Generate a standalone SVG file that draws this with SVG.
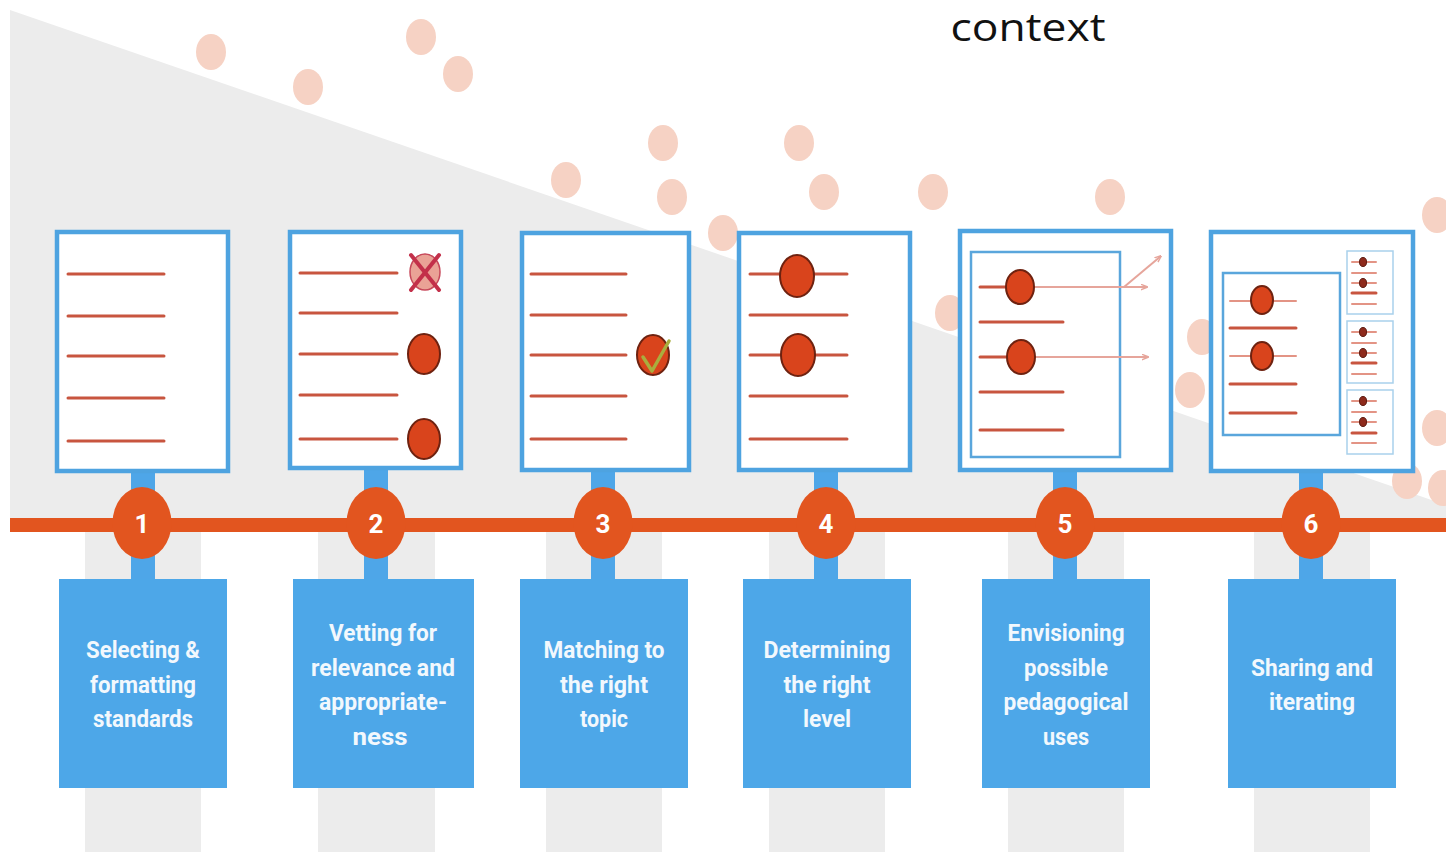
<svg xmlns="http://www.w3.org/2000/svg" width="1446" height="852" viewBox="0 0 1446 852">
<defs>
<style>
.bg{fill:#ffffff}
.tri{fill:#ececec}
.bar{fill:#ececec}
.dot{fill:#f6d2c4}
.card{fill:#ffffff;stroke:#4ea3e0;stroke-width:4.5}
.inner{fill:none;stroke:#5aa6dc;stroke-width:2.5}
.mini{fill:#ffffff;stroke:#a9d1ec;stroke-width:1.5}
.ln{stroke:#c8553f;stroke-width:3;stroke-linecap:round}
.lnp{stroke:#e39485;stroke-width:2;stroke-linecap:round}
.bul{fill:#d9441c;stroke:#6e2210;stroke-width:2}
.sbul{fill:#8e2a1c;stroke:#5a1a10;stroke-width:1}
.arr{stroke:#e6a59b;stroke-width:2;fill:none}
.stem{fill:#4ea6e8}
.num{fill:#e2551f}
.numt{fill:#ffffff;font-family:Roboto,"Liberation Sans",sans-serif;font-weight:bold;font-size:26px;text-anchor:middle}
.box{fill:#4da7e8}
.lbl{fill:#f2f8fd;font-family:Roboto,"Liberation Sans",sans-serif;font-weight:bold;font-size:24px;text-anchor:middle}
</style>
<marker id="ah" viewBox="0 0 10 10" refX="9" refY="5" markerWidth="7" markerHeight="7" orient="auto" markerUnits="userSpaceOnUse">
<path d="M0,1 L10,5 L0,9" fill="none" stroke="#e6a59b" stroke-width="2"/>
</marker>
</defs>
<rect class="bg" x="0" y="0" width="1446" height="852"/>
<g id="background">
<polygon class="tri" points="10,10 1446,505 1446,526 10,526"/>
<rect class="bar" x="85" y="526" width="116" height="326"/>
<rect class="bar" x="318" y="526" width="117" height="326"/>
<rect class="bar" x="546" y="526" width="116" height="326"/>
<rect class="bar" x="769" y="526" width="116" height="326"/>
<rect class="bar" x="1008" y="526" width="116" height="326"/>
<rect class="bar" x="1254" y="526" width="116" height="326"/>
<ellipse class="dot" cx="211" cy="52" rx="15" ry="18"/>
<ellipse class="dot" cx="308" cy="87" rx="15" ry="18"/>
<ellipse class="dot" cx="421" cy="37" rx="15" ry="18"/>
<ellipse class="dot" cx="458" cy="74" rx="15" ry="18"/>
<ellipse class="dot" cx="566" cy="180" rx="15" ry="18"/>
<ellipse class="dot" cx="663" cy="143" rx="15" ry="18"/>
<ellipse class="dot" cx="672" cy="197" rx="15" ry="18"/>
<ellipse class="dot" cx="723" cy="233" rx="15" ry="18"/>
<ellipse class="dot" cx="799" cy="143" rx="15" ry="18"/>
<ellipse class="dot" cx="824" cy="192" rx="15" ry="18"/>
<ellipse class="dot" cx="933" cy="192" rx="15" ry="18"/>
<ellipse class="dot" cx="1110" cy="197" rx="15" ry="18"/>
<ellipse class="dot" cx="950" cy="313" rx="15" ry="18"/>
<ellipse class="dot" cx="1202" cy="337" rx="15" ry="18"/>
<ellipse class="dot" cx="1190" cy="390" rx="15" ry="18"/>
<ellipse class="dot" cx="1437" cy="215" rx="15" ry="18"/>
<ellipse class="dot" cx="1437" cy="428" rx="15" ry="18"/>
<ellipse class="dot" cx="1407" cy="481" rx="15" ry="18"/>
<ellipse class="dot" cx="1443" cy="488" rx="15" ry="18"/>
</g>
<text x="1028" y="41" font-family="'Open Sans','Liberation Sans',sans-serif" font-size="38" fill="#111111" text-anchor="middle" textLength="155" lengthAdjust="spacingAndGlyphs">context</text>
<g id="connectors">
<rect x="10" y="518" width="1436" height="14" fill="#e2551f"/>
<rect class="stem" x="131" y="470" width="24" height="112"/>
<rect class="stem" x="364" y="468" width="24" height="114"/>
<rect class="stem" x="591" y="470" width="24" height="112"/>
<rect class="stem" x="814" y="470" width="24" height="112"/>
<rect class="stem" x="1053" y="470" width="24" height="112"/>
<rect class="stem" x="1299" y="470" width="24" height="112"/>
</g>
<g id="step1">
<rect class="card" x="57" y="232" width="171" height="239"/>
<line class="ln" x1="68" y1="274" x2="164" y2="274"/>
<line class="ln" x1="68" y1="316" x2="164" y2="316"/>
<line class="ln" x1="68" y1="356" x2="164" y2="356"/>
<line class="ln" x1="68" y1="398" x2="164" y2="398"/>
<line class="ln" x1="68" y1="441" x2="164" y2="441"/>
<ellipse class="num" cx="142" cy="523" rx="29.5" ry="36"/>
<text class="numt" x="142" y="533">1</text>
<rect class="box" x="59" y="579" width="168" height="209"/>
<text class="lbl" x="143" y="658" textLength="114" lengthAdjust="spacingAndGlyphs">Selecting &amp;</text>
<text class="lbl" x="143" y="693" textLength="106" lengthAdjust="spacingAndGlyphs">formatting</text>
<text class="lbl" x="143" y="727" textLength="100" lengthAdjust="spacingAndGlyphs">standards</text>
</g>
<g id="step2">
<rect class="card" x="290" y="232" width="171" height="236"/>
<line class="ln" x1="300" y1="273" x2="397" y2="273"/>
<line class="ln" x1="300" y1="313" x2="397" y2="313"/>
<line class="ln" x1="300" y1="354" x2="397" y2="354"/>
<line class="ln" x1="300" y1="395" x2="397" y2="395"/>
<line class="ln" x1="300" y1="439" x2="397" y2="439"/>
<ellipse cx="425" cy="272" rx="15" ry="18" fill="#eaa296" stroke="#c7485a" stroke-width="1.5"/>
<line x1="411" y1="255" x2="439" y2="290" stroke="#c3304a" stroke-width="4" stroke-linecap="round"/>
<line x1="439" y1="255" x2="411" y2="290" stroke="#c3304a" stroke-width="4" stroke-linecap="round"/>
<ellipse class="bul" cx="424" cy="354" rx="16" ry="20"/>
<ellipse class="bul" cx="424" cy="439" rx="16" ry="20"/>
<ellipse class="num" cx="376" cy="523" rx="29.5" ry="36"/>
<text class="numt" x="376" y="533">2</text>
<rect class="box" x="293" y="579" width="181" height="209"/>
<text class="lbl" x="383" y="641" textLength="108" lengthAdjust="spacingAndGlyphs">Vetting for</text>
<text class="lbl" x="383" y="676" textLength="144" lengthAdjust="spacingAndGlyphs">relevance and</text>
<text class="lbl" x="383" y="710" textLength="128" lengthAdjust="spacingAndGlyphs">appropriate-</text>
<text class="lbl" x="380" y="745" textLength="55" lengthAdjust="spacingAndGlyphs">ness</text>
</g>
<g id="step3">
<rect class="card" x="522" y="233" width="167" height="237"/>
<line class="ln" x1="531" y1="274" x2="626" y2="274"/>
<line class="ln" x1="531" y1="315" x2="626" y2="315"/>
<line class="ln" x1="531" y1="355" x2="626" y2="355"/>
<line class="ln" x1="531" y1="396" x2="626" y2="396"/>
<line class="ln" x1="531" y1="439" x2="626" y2="439"/>
<ellipse class="bul" cx="653" cy="355" rx="16" ry="20"/>
<polyline points="643,357 652,371 669,341" fill="none" stroke="#a9ad3e" stroke-width="3.5" stroke-linecap="round" stroke-linejoin="round"/>
<ellipse class="num" cx="603" cy="523" rx="29.5" ry="36"/>
<text class="numt" x="603" y="533">3</text>
<rect class="box" x="520" y="579" width="168" height="209"/>
<text class="lbl" x="604" y="658" textLength="121" lengthAdjust="spacingAndGlyphs">Matching to</text>
<text class="lbl" x="604" y="693" textLength="88" lengthAdjust="spacingAndGlyphs">the right</text>
<text class="lbl" x="604" y="727" textLength="48" lengthAdjust="spacingAndGlyphs">topic</text>
</g>
<g id="step4">
<rect class="card" x="739" y="233" width="171" height="237"/>
<line class="ln" x1="750" y1="274" x2="847" y2="274"/>
<line class="ln" x1="750" y1="315" x2="847" y2="315"/>
<line class="ln" x1="750" y1="355" x2="847" y2="355"/>
<line class="ln" x1="750" y1="396" x2="847" y2="396"/>
<line class="ln" x1="750" y1="439" x2="847" y2="439"/>
<ellipse class="bul" cx="797" cy="276" rx="17" ry="21"/>
<ellipse class="bul" cx="798" cy="355" rx="17" ry="21"/>
<ellipse class="num" cx="826" cy="523" rx="29.5" ry="36"/>
<text class="numt" x="826" y="533">4</text>
<rect class="box" x="743" y="579" width="168" height="209"/>
<text class="lbl" x="827" y="658" textLength="127" lengthAdjust="spacingAndGlyphs">Determining</text>
<text class="lbl" x="827" y="693" textLength="87" lengthAdjust="spacingAndGlyphs">the right</text>
<text class="lbl" x="827" y="727" textLength="48" lengthAdjust="spacingAndGlyphs">level</text>
</g>
<g id="step5">
<rect class="card" x="960" y="231" width="211" height="239"/>
<rect class="inner" x="971" y="252" width="149" height="205"/>
<line class="ln" x1="980" y1="287" x2="1006" y2="287"/>
<line class="arr" x1="1034" y1="287" x2="1147" y2="287" marker-end="url(#ah)"/>
<line class="arr" x1="1124" y1="287" x2="1161" y2="256" marker-end="url(#ah)"/>
<line class="ln" x1="980" y1="322" x2="1063" y2="322"/>
<line class="ln" x1="980" y1="357" x2="1007" y2="357"/>
<line class="arr" x1="1035" y1="357" x2="1148" y2="357" marker-end="url(#ah)"/>
<line class="ln" x1="980" y1="392" x2="1063" y2="392"/>
<line class="ln" x1="980" y1="430" x2="1063" y2="430"/>
<ellipse class="bul" cx="1020" cy="287" rx="14" ry="17"/>
<ellipse class="bul" cx="1021" cy="357" rx="14" ry="17"/>
<ellipse class="num" cx="1065" cy="523" rx="29.5" ry="36"/>
<text class="numt" x="1065" y="533">5</text>
<rect class="box" x="982" y="579" width="168" height="209"/>
<text class="lbl" x="1066" y="641" textLength="117" lengthAdjust="spacingAndGlyphs">Envisioning</text>
<text class="lbl" x="1066" y="676" textLength="84" lengthAdjust="spacingAndGlyphs">possible</text>
<text class="lbl" x="1066" y="710" textLength="125" lengthAdjust="spacingAndGlyphs">pedagogical</text>
<text class="lbl" x="1066" y="745" textLength="46" lengthAdjust="spacingAndGlyphs">uses</text>
</g>
<g id="step6">
<rect class="card" x="1211" y="232" width="202" height="239"/>
<rect class="inner" x="1223" y="273" width="117" height="162"/>
<line class="lnp" x1="1230" y1="301" x2="1296" y2="301"/>
<line class="ln" x1="1230" y1="328" x2="1296" y2="328"/>
<line class="lnp" x1="1230" y1="356" x2="1296" y2="356"/>
<line class="ln" x1="1230" y1="384" x2="1296" y2="384"/>
<line class="ln" x1="1230" y1="413" x2="1296" y2="413"/>
<ellipse class="bul" cx="1262" cy="300" rx="11" ry="14"/>
<ellipse class="bul" cx="1262" cy="356" rx="11" ry="14"/>
<rect class="mini" x="1347" y="251" width="46" height="63"/>
<line class="lnp" x1="1352" y1="262" x2="1376" y2="262"/>
<line class="lnp" x1="1352" y1="273" x2="1376" y2="273"/>
<line class="lnp" x1="1352" y1="283" x2="1376" y2="283"/>
<line class="ln" x1="1352" y1="293" x2="1376" y2="293" stroke-width="2"/>
<line class="lnp" x1="1352" y1="304" x2="1376" y2="304"/>
<ellipse class="sbul" cx="1363" cy="262" rx="3.5" ry="4.5"/>
<ellipse class="sbul" cx="1363" cy="283" rx="3.5" ry="4.5"/>
<rect class="mini" x="1347" y="321" width="46" height="62"/>
<line class="lnp" x1="1352" y1="332" x2="1376" y2="332"/>
<line class="lnp" x1="1352" y1="343" x2="1376" y2="343"/>
<line class="lnp" x1="1352" y1="353" x2="1376" y2="353"/>
<line class="ln" x1="1352" y1="363" x2="1376" y2="363" stroke-width="2"/>
<line class="lnp" x1="1352" y1="374" x2="1376" y2="374"/>
<ellipse class="sbul" cx="1363" cy="332" rx="3.5" ry="4.5"/>
<ellipse class="sbul" cx="1363" cy="353" rx="3.5" ry="4.5"/>
<rect class="mini" x="1347" y="390" width="46" height="64"/>
<line class="lnp" x1="1352" y1="401" x2="1376" y2="401"/>
<line class="lnp" x1="1352" y1="412" x2="1376" y2="412"/>
<line class="lnp" x1="1352" y1="422" x2="1376" y2="422"/>
<line class="ln" x1="1352" y1="433" x2="1376" y2="433" stroke-width="2"/>
<line class="lnp" x1="1352" y1="443" x2="1376" y2="443"/>
<ellipse class="sbul" cx="1363" cy="401" rx="3.5" ry="4.5"/>
<ellipse class="sbul" cx="1363" cy="422" rx="3.5" ry="4.5"/>
<ellipse class="num" cx="1311" cy="523" rx="29.5" ry="36"/>
<text class="numt" x="1311" y="533">6</text>
<rect class="box" x="1228" y="579" width="168" height="209"/>
<text class="lbl" x="1312" y="676" textLength="122" lengthAdjust="spacingAndGlyphs">Sharing and</text>
<text class="lbl" x="1312" y="710" textLength="86" lengthAdjust="spacingAndGlyphs">iterating</text>
</g>
</svg>
